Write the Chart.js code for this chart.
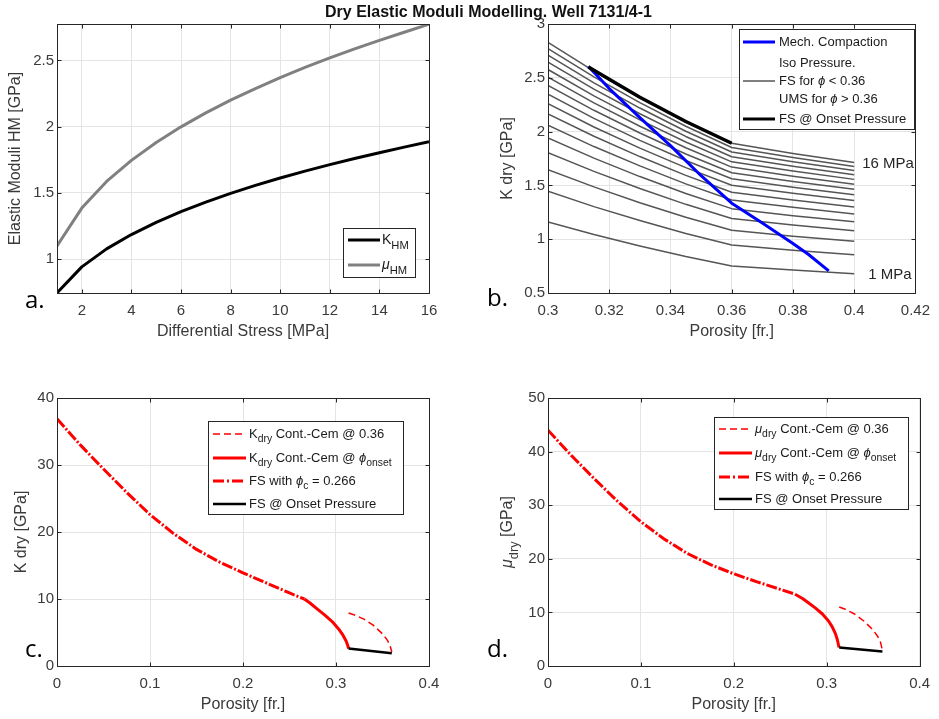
<!DOCTYPE html>
<html>
<head>
<meta charset="utf-8">
<title>Dry Elastic Moduli Modelling</title>
<script src="https://cdn.jsdelivr.net/npm/chart.js@4.4.1/dist/chart.umd.min.js"></script>
<style>
  body { margin: 0; background: #fff; width: 939px; height: 719px; position: relative; overflow: hidden; }
  canvas { position: absolute; left: 0; top: 0; }
  #title { position: absolute; left: 0; width: 977px; top: 4px; text-align: center;
           font: bold 16px/16px "Liberation Sans", Arial, sans-serif; color: #111; }
  .tag { position: absolute; font: 24px/24px "Open Sans", Lato, sans-serif; color: #000; }
</style>
</head>
<body>
<canvas id="pa" width="939" height="719"></canvas>
<canvas id="pb" width="939" height="719"></canvas>
<canvas id="pc" width="939" height="719"></canvas>
<canvas id="pd" width="939" height="719"></canvas>
<div id="title">Dry Elastic Moduli Modelling. Well 7131/4-1</div>
<div class="tag" style="left:25px;top:287px">a.</div>
<div class="tag" style="left:487px;top:285px">b.</div>
<div class="tag" style="left:25px;top:636px">c.</div>
<div class="tag" style="left:487px;top:636px">d.</div>
<script>
"use strict";

// ── Panel a: Hertz-Mindlin moduli vs differential stress ──────────────────
const STRESS = [1, 2, 3, 4, 5, 6, 7, 8, 9, 10, 11, 12, 13, 14, 15, 16];
const K_HM  = [0.746, 0.942, 1.078, 1.186, 1.278, 1.359, 1.431, 1.497, 1.557, 1.613, 1.665, 1.714, 1.760, 1.804, 1.846, 1.886];
const MU_HM = [1.100, 1.386, 1.587, 1.746, 1.881, 1.999, 2.104, 2.200, 2.288, 2.370, 2.447, 2.519, 2.587, 2.652, 2.713, 2.773];
const TICKS_A_X = [2, 4, 6, 8, 10, 12, 14, 16];
const TICKS_A_Y = [1, 1.5, 2, 2.5];

// ── Panel b: iso-pressure lines (1..16 MPa) and mechanical compaction ─────
const POR_ISO = [0.30, 0.315, 0.33, 0.345, 0.36, 0.38, 0.40];
const K_ISO = [
  [1.160, 1.043, 0.937, 0.839, 0.751, 0.713, 0.680],
  [1.445, 1.303, 1.173, 1.053, 0.946, 0.898, 0.856],
  [1.646, 1.486, 1.339, 1.204, 1.083, 1.028, 0.980],
  [1.805, 1.630, 1.471, 1.324, 1.192, 1.132, 1.079],
  [1.940, 1.753, 1.582, 1.425, 1.284, 1.219, 1.162],
  [2.059, 1.861, 1.681, 1.514, 1.365, 1.296, 1.235],
  [2.164, 1.957, 1.768, 1.593, 1.437, 1.364, 1.300],
  [2.259, 2.043, 1.846, 1.665, 1.502, 1.426, 1.359],
  [2.347, 2.123, 1.919, 1.731, 1.562, 1.483, 1.413],
  [2.429, 2.198, 1.987, 1.792, 1.618, 1.536, 1.464],
  [2.505, 2.267, 2.050, 1.850, 1.670, 1.586, 1.511],
  [2.577, 2.332, 2.109, 1.903, 1.719, 1.633, 1.556],
  [2.646, 2.395, 2.166, 1.955, 1.766, 1.677, 1.598],
  [2.710, 2.453, 2.219, 2.003, 1.810, 1.719, 1.638],
  [2.771, 2.509, 2.270, 2.050, 1.852, 1.759, 1.676],
  [2.830, 2.563, 2.319, 2.094, 1.892, 1.797, 1.712],
];
const POR_MECH = [0.3132, 0.32, 0.33, 0.34, 0.35, 0.36, 0.37, 0.38, 0.385, 0.3917];
const K_MECH   = [2.605, 2.40, 2.13, 1.87, 1.59, 1.335, 1.15, 0.96, 0.86, 0.705];
const POR_ONSET_B = [0.3132, 0.33, 0.345, 0.36];
const K_ONSET_B   = [2.600, 2.319, 2.094, 1.892];
const TICKS_B_X = [0.3, 0.32, 0.34, 0.36, 0.38, 0.4, 0.42];
const TICKS_B_Y = [0.5, 1, 1.5, 2, 2.5, 3];

// ── Panel c: K dry ────────────────────────────────────────────────────────
const POR_FS = [0, 0.025, 0.05, 0.075, 0.1, 0.125, 0.15, 0.175, 0.2, 0.225, 0.25, 0.266];
const K_FS   = [36.9, 33.0, 29.4, 25.9, 22.6, 19.8, 17.4, 15.5, 13.9, 12.4, 10.9, 10.0];
const POR_CC_C = [0.266, 0.272, 0.279, 0.288, 0.2968, 0.303, 0.3075, 0.311, 0.3128, 0.3135];
const K_CC     = [10.0, 9.4, 8.6, 7.6, 6.5, 5.5, 4.6, 3.7, 3.0, 2.6];
const POR_CC36 = [0.3135, 0.32, 0.33, 0.34, 0.35, 0.355, 0.358, 0.36];
const K_CC36   = [7.9, 7.6, 7.0, 6.1, 4.8, 3.9, 3.1, 2.1];
const POR_ONSET = [0.3135, 0.36];
const K_ONSET   = [2.6, 1.9];

// ── Panel d: mu dry ───────────────────────────────────────────────────────
const MU_FS    = [44.0, 39.3, 34.9, 30.7, 26.9, 23.7, 21.0, 18.9, 17.2, 15.7, 14.3, 13.4];
const POR_CC_D = [0.266, 0.274, 0.281, 0.288, 0.2954, 0.302, 0.306, 0.3095, 0.3115, 0.3133];
const MU_CC    = [13.4, 12.6, 11.7, 10.8, 9.7, 8.4, 7.3, 6.0, 4.9, 3.45];
const MU_CC36  = [11.0, 10.6, 9.7, 8.4, 6.7, 5.5, 4.4, 2.9];
const MU_ONSET = [3.45, 2.7];
const TICKS_CD_X = [0, 0.1, 0.2, 0.3, 0.4];
const TICKS_C_Y = [0, 10, 20, 30, 40];
const TICKS_D_Y = [0, 10, 20, 30, 40, 50];

// ── Helpers ───────────────────────────────────────────────────────────────
const W = 939, H = 719;
const FONT = '"Liberation Sans", Arial, Helvetica, sans-serif';
const TXT = "#3a3a3a";
const RED = "#ff0000";
const DASHDOT = [11, 2, 2, 2];

function el(id) { return document.getElementById(id); }
function pts(xs, ys) { return xs.map((x, i) => ({ x, y: ys[i] })); }
function fmtTick(v) { return String(+Number(v).toFixed(4)); }

function line(xs, ys, color, width, dash) {
  return {
    data: pts(xs, ys), showLine: true, borderColor: color, backgroundColor: color,
    borderWidth: width, borderDash: dash || [], pointRadius: 0, fill: false,
    borderJoinStyle: "round", borderCapStyle: "butt",
  };
}

// text with subscripts and greek symbols: parts = [[text, kind], ...]
function richFont(kind, size) {
  if (kind === "sub") return (size * 0.8) + "px " + FONT;
  if (kind === "g") return "italic " + size + "px " + FONT;
  return size + "px " + FONT;
}
function richWidth(ctx, parts, size) {
  let w = 0;
  parts.forEach(([t, k]) => { ctx.font = richFont(k, size); w += ctx.measureText(t).width; });
  return w;
}
function drawRich(ctx, x, y, parts, size, color) {
  ctx.fillStyle = color;
  ctx.textBaseline = "middle";
  ctx.textAlign = "left";
  parts.forEach(([t, k]) => {
    ctx.font = richFont(k, size);
    ctx.fillText(t, x, y + (k === "sub" ? size * 0.42 : 0));
    x += ctx.measureText(t).width;
  });
  return x;
}

// extra drawing per canvas (legend boxes, notes)
const EXTRAS = {};

const boxPlugin = {
  id: "panelBox",
  afterDatasetsDraw(chart) {
    const { ctx, chartArea: a, scales } = chart;
    ctx.save();
    ctx.strokeStyle = "#262626";
    ctx.lineWidth = 1;
    const l = Math.round(a.left) + 0.5, t = Math.round(a.top) + 0.5;
    const r = Math.round(a.right) + 0.5, b = Math.round(a.bottom) + 0.5;
    ctx.strokeRect(l, t, r - l, b - t);
    ctx.beginPath();
    scales.x.ticks.forEach(tk => {
      const px = Math.round(scales.x.getPixelForValue(tk.value)) + 0.5;
      ctx.moveTo(px, b); ctx.lineTo(px, b - 4);
      ctx.moveTo(px, t); ctx.lineTo(px, t + 4);
    });
    scales.y.ticks.forEach(tk => {
      const py = Math.round(scales.y.getPixelForValue(tk.value)) + 0.5;
      ctx.moveTo(l, py); ctx.lineTo(l + 4, py);
      ctx.moveTo(r, py); ctx.lineTo(r - 4, py);
    });
    ctx.stroke();
    ctx.restore();
  },
  afterDraw(chart) {
    const ex = EXTRAS[chart.canvas.id];
    if (!ex) return;
    const ctx = chart.ctx;
    ctx.save();
    const lg = ex.legend;
    if (lg) {
      const [l, t, r, b] = lg.box;
      ctx.fillStyle = "#fff";
      ctx.fillRect(l, t, r - l, b - t);
      ctx.strokeStyle = "#262626";
      ctx.lineWidth = 1;
      ctx.strokeRect(l + 0.5, t + 0.5, r - l, b - t);
      lg.items.forEach(it => {
        if (it.line) {
          ctx.beginPath();
          ctx.strokeStyle = it.line.color;
          ctx.lineWidth = it.line.width;
          ctx.setLineDash(it.line.dash || []);
          ctx.moveTo(lg.sample[0], t + it.dy);
          ctx.lineTo(lg.sample[1], t + it.dy);
          ctx.stroke();
          ctx.setLineDash([]);
        }
        drawRich(ctx, lg.textX, t + it.dy, it.parts, lg.size, "#1a1a1a");
      });
    }
    (ex.notes || []).forEach(n => {
      const px = chart.scales.x.getPixelForValue(n.x) + n.dx;
      const py = chart.scales.y.getPixelForValue(n.y) + n.dy;
      drawRich(ctx, px, py, n.parts, 15, "#262626");
    });
    if (ex.yTitle) {
      const a = chart.chartArea;
      ctx.translate(ex.yTitle.x, (a.top + a.bottom) / 2);
      ctx.rotate(-Math.PI / 2);
      const w = richWidth(ctx, ex.yTitle.parts, 16);
      drawRich(ctx, -w / 2, 0, ex.yTitle.parts, 16, TXT);
    }
    ctx.restore();
  },
};

function axis(a, horizontal, size) {
  return {
    type: "linear",
    min: a.min, max: a.max,
    afterBuildTicks: s => { s.ticks = a.ticks.map(v => ({ value: v })); },
    afterFit: s => { if (horizontal) s.height = size; else s.width = size; },
    grid: { color: "#e4e4e4", lineWidth: 1, drawTicks: false },
    border: { display: false },
    ticks: {
      color: TXT, font: { family: FONT, size: 15 }, padding: horizontal ? 9 : 3,
      autoSkip: false, maxRotation: 0, callback: v => fmtTick(v),
    },
    title: {
      display: !!a.title, text: a.title || "", color: TXT, padding: 0,
      font: { family: FONT, size: 16, lineHeight: 1 },
    },
  };
}

// area = [left, top, right, bottom] of the plot box; yW / xH = axis band sizes
function makePanel(id, area, yW, xH, x, y, datasets) {
  new Chart(el(id), {
    type: "scatter",
    data: { datasets },
    options: {
      responsive: false,
      animation: false,
      events: [],
      layout: { padding: { left: area[0] - yW, top: area[1], right: W - area[2], bottom: H - area[3] - xH } },
      plugins: { legend: { display: false }, tooltip: { enabled: false } },
      scales: { x: axis(x, true, xH), y: axis(y, false, yW) },
    },
    plugins: [boxPlugin],
  });
}

// ── Panel a ───────────────────────────────────────────────────────────────
EXTRAS.pa = {
  legend: {
    box: [343, 228, 415, 277], sample: [348, 380], textX: 382, size: 14,
    items: [
      { dy: 12, line: { color: "#000", width: 3 }, parts: [["K", "n"], ["HM", "sub"]] },
      { dy: 37, line: { color: "#808080", width: 3 }, parts: [["\u03bc", "g"], ["HM", "sub"]] },
    ],
  },
};
makePanel("pa", [57, 24, 429, 293], 49, 47,
  { min: 1, max: 16, ticks: TICKS_A_X, title: "Differential Stress [MPa]" },
  { min: 0.745, max: 2.775, ticks: TICKS_A_Y, title: "Elastic Moduli HM [GPa]" },
  [
    line(STRESS, K_HM, "#000000", 3),
    line(STRESS, MU_HM, "#808080", 3),
  ]);

// ── Panel b ───────────────────────────────────────────────────────────────
EXTRAS.pb = {
  legend: {
    box: [739, 29, 914, 129], sample: [743, 775], textX: 779, size: 13,
    items: [
      { dy: 13, line: { color: "#0000ff", width: 3 }, parts: [["Mech. Compaction", "n"]] },
      { dy: 34, parts: [["Iso Pressure.", "n"]] },
      { dy: 52, line: { color: "#555555", width: 1.5 }, parts: [["FS for ", "n"], ["\u03d5", "g"], [" < 0.36", "n"]] },
      { dy: 70, parts: [["UMS for ", "n"], ["\u03d5", "g"], [" > 0.36", "n"]] },
      { dy: 90, line: { color: "#000", width: 3 }, parts: [["FS @ Onset Pressure", "n"]] },
    ],
  },
  notes: [
    { x: 0.4, y: K_ISO[15][6], dx: 8, dy: 1.5, parts: [["16 MPa", "n"]] },
    { x: 0.4, y: K_ISO[0][6], dx: 14, dy: 1.5, parts: [["1 MPa", "n"]] },
  ],
};
const isoSets = K_ISO.map(row => line(POR_ISO, row, "#555555", 1.5));
makePanel("pb", [548, 24, 921, 293], 48, 47,
  { min: 0.3, max: 0.42, ticks: TICKS_B_X, title: "Porosity [fr.]" },
  { min: 0.5, max: 3, ticks: TICKS_B_Y, title: "K dry [GPa]" },
  [
    line(POR_ONSET_B, K_ONSET_B, "#000000", 3.5),
    line(POR_MECH, K_MECH, "#0000ff", 3),
    ...isoSets,
  ]);

// ── Panel c ───────────────────────────────────────────────────────────────
const CD_ITEMS = sym => [
  { line: { color: RED, width: 1.5, dash: [7, 4] }, parts: [[sym[0], sym[1]], ["dry", "sub"], [" Cont.-Cem @ 0.36", "n"]] },
  { line: { color: RED, width: 3 }, parts: [[sym[0], sym[1]], ["dry", "sub"], [" Cont.-Cem @ ", "n"], ["\u03d5", "g"], ["onset", "sub"]] },
  { line: { color: RED, width: 3, dash: [11, 3, 2, 3] }, parts: [["FS with ", "n"], ["\u03d5", "g"], ["c", "sub"], [" = 0.266", "n"]] },
  { line: { color: "#000", width: 2.5 }, parts: [["FS @ Onset Pressure", "n"]] },
];
const itemsC = CD_ITEMS(["K", "n"]);
[13, 37, 60, 83].forEach((d, i) => { itemsC[i].dy = d; });
EXTRAS.pc = { legend: { box: [208, 421, 403, 514], sample: [213, 246], textX: 249, size: 13, items: itemsC } };
makePanel("pc", [57, 398, 429, 666], 43, 47,
  { min: 0, max: 0.4, ticks: TICKS_CD_X, title: "Porosity [fr.]" },
  { min: 0, max: 40, ticks: TICKS_C_Y, title: "K dry [GPa]" },
  [
    line(POR_ONSET, K_ONSET, "#000000", 2.5),
    line(POR_CC36, K_CC36, RED, 1.5, [7, 4]),
    line(POR_CC_C, K_CC, RED, 3),
    line(POR_FS, K_FS, RED, 3, DASHDOT),
  ]);

// ── Panel d ───────────────────────────────────────────────────────────────
const itemsD = CD_ITEMS(["\u03bc", "g"]);
[12, 36, 60, 82].forEach((d, i) => { itemsD[i].dy = d; });
EXTRAS.pd = {
  legend: { box: [714, 417, 908, 509], sample: [719, 752], textX: 755, size: 13, items: itemsD },
  yTitle: { x: 507.5, parts: [["\u03bc", "g"], ["dry", "sub"], [" [GPa]", "n"]] },
};
makePanel("pd", [548, 398, 921, 666], 49, 47,
  { min: 0, max: 0.4, ticks: TICKS_CD_X, title: "Porosity [fr.]" },
  { min: 0, max: 50, ticks: TICKS_D_Y },
  [
    line(POR_ONSET, MU_ONSET, "#000000", 2.5),
    line(POR_CC36, MU_CC36, RED, 1.5, [7, 4]),
    line(POR_CC_D, MU_CC, RED, 3),
    line(POR_FS, MU_FS, RED, 3, DASHDOT),
  ]);
</script>
</body>
</html>
